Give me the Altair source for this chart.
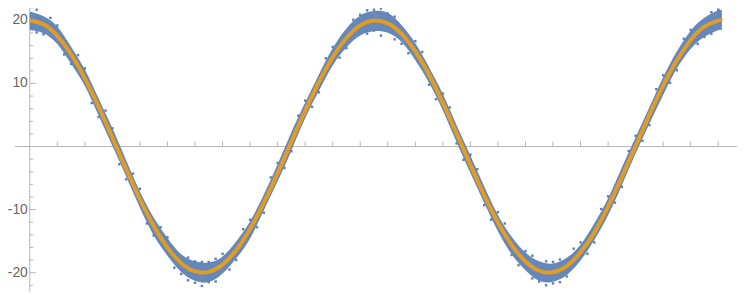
import altair as alt
import pandas as pd

# ---- data ----
x_s = [0.0, 0.25, 0.5, 0.75, 1.0, 1.25, 1.5, 1.75, 2.0, 2.25, 2.5, 2.75, 3.0, 3.25,
       3.5, 3.75, 4.0, 4.25, 4.5, 4.75, 5.0, 5.25, 5.5, 5.75, 6.0, 6.25, 6.5, 6.75,
       7.0, 7.25, 7.5, 7.75, 8.0, 8.25, 8.5, 8.75, 9.0, 9.25, 9.5, 9.75, 10.0, 10.25,
       10.5, 10.75, 11.0, 11.25, 11.5, 11.75, 12.0, 12.25, 12.5, 12.566]
fit_y = [20.0, 19.38, 17.55, 14.63, 10.81, 6.31, 1.41, -3.56, -8.32, -12.56, -16.02,
         -18.49, -19.80, -19.88, -18.73, -16.41, -13.07, -8.92, -4.22, 0.75, 5.67,
         10.24, 14.17, 17.22, 19.20, 19.99, 19.53, 17.86, 15.08, 11.39, 6.93, 2.08,
         -2.91, -7.71, -12.04, -15.62, -18.22, -19.70, -19.94, -18.95, -16.78, -13.62,
         -9.51, -4.84, 0.09, 5.02, 9.68, 13.70, 16.88, 19.01, 19.96, 20.0]
# dense part of the noisy data cloud: spread above / below the fit
spread_up = [1.4, 1.3, 1.5, 1.2, 1.4, 1.3, 1.5, 1.4, 1.2, 1.3, 1.5, 1.4, 1.6, 1.5,
             1.3, 1.4, 1.2, 1.3, 1.4, 1.5, 1.3, 1.2, 1.4, 1.5, 1.6, 1.5, 1.7, 1.4,
             1.3, 1.2, 1.4, 1.3, 1.5, 1.4, 1.2, 1.3, 1.4, 1.5, 1.4, 1.3, 1.2, 1.4,
             1.3, 1.5, 1.4, 1.2, 1.3, 1.4, 1.5, 1.4, 1.6, 1.5]
spread_dn = [1.5, 1.4, 1.3, 1.5, 1.2, 1.4, 1.3, 1.2, 1.4, 1.5, 1.3, 1.4, 1.5, 1.6,
             1.4, 1.3, 1.5, 1.2, 1.3, 1.4, 1.2, 1.4, 1.3, 1.5, 1.6, 1.7, 1.5, 1.3,
             1.4, 1.3, 1.2, 1.4, 1.3, 1.2, 1.4, 1.5, 1.4, 1.6, 1.5, 1.4, 1.3, 1.2,
             1.4, 1.3, 1.2, 1.4, 1.5, 1.3, 1.4, 1.6, 1.5, 1.6]
# scattered data points at the ragged edge of the cloud
pts_x = [0.125, 0.125, 0.375, 0.625, 0.875, 1.125, 1.375, 1.625, 1.875, 2.125, 2.375,
         2.625, 2.875, 2.875, 3.125, 3.125, 3.375, 3.375, 3.625, 3.875, 4.125, 4.375,
         4.625, 4.875, 5.125, 5.375, 5.625, 5.875, 6.125, 6.125, 6.375, 6.375, 6.625,
         6.625, 6.875, 7.125, 7.375, 7.625, 7.875, 8.125, 8.375, 8.625, 8.875, 9.125,
         9.125, 9.375, 9.375, 9.625, 9.625, 9.875, 10.125, 10.375, 10.625, 10.875,
         11.125, 11.375, 11.625, 11.875, 12.125, 12.375, 12.375, 12.5,
         0.25, 0.5, 0.75, 1.0, 1.25, 1.5, 1.75, 2.0, 2.25, 2.5, 2.75, 3.0, 3.0, 3.25,
         3.25, 3.5, 3.75, 4.0, 4.25, 4.5, 4.75, 5.0, 5.25, 5.5, 5.75, 6.0, 6.25, 6.25,
         6.5, 6.75, 7.0, 7.25, 7.5, 7.75, 8.0, 8.25, 8.5, 8.75, 9.0, 9.25, 9.5, 9.5,
         9.75, 10.0, 10.25, 10.5, 10.75, 11.0, 11.25, 11.5, 11.75, 12.0, 12.25, 12.5]
pts_y = [21.7, 18.1, 20.4, 14.6, 14.5, 6.9, 5.7, -2.8, -4.3, -12.2, -12.8,
         -19.2, -21.2, -17.6, -22.1, -18.3, -21.4, -17.8, -19.5, -13.1, -12.8, -4.9,
         -3.4, 4.9, 6.3, 14.0, 14.1, 20.1, 21.6, 17.9, 21.9, 17.6, 20.6,
         17.0, 14.8, 15.0, 7.5, 6.2, -2.1, -3.6, -11.6, -12.2, -18.8, -20.9,
         -17.3, -22.0, -18.2, -21.5, -17.9, -16.2, -17.0, -9.9, -8.9, -0.7,
         0.9, 9.1, 10.1, 17.1, 16.3, 21.3, 17.9, 21.6,
         17.8, 19.2, 13.1, 12.4, 4.7, 2.9, -5.2, -6.7, -14.1, -14.4, -20.2, -18.2, -21.6,
         -21.5, -18.3, -17.0, -18.0, -11.6, -10.5, -2.6, -0.75, 7.3, 8.6, 15.8, 15.6,
         20.9, 18.4, 21.7, 21.1, 16.3, 16.7, 9.8, 8.4, 0.5, -1.3, -9.3, -10.4, -17.2,
         -16.6, -21.4, -18.3, -21.7, -20.6, -15.2, -15.2, -7.9, -6.4, 1.7, 3.4, 11.3,
         12.1, 18.5, 17.4, 21.7]
# axes
x_ticks = [0.5, 1.0, 1.5, 2.0, 2.5, 3.0, 3.5, 4.0, 4.5, 5.0, 5.5, 6.0, 6.5, 7.0, 7.5,
           8.0, 8.5, 9.0, 9.5, 10.0, 10.5, 11.0, 11.5, 12.0, 12.5]
y_minor = [-22, -18, -16, -14, -12, -8, -6, -4, -2, 2, 4, 6, 8, 12, 14, 16, 18, 22]
y_major = [-20, -10, 10, 20]
y_labels = ["-20", "-10", "10", "20"]

BLUE = "#5E81B5"
ORANGE = "#E19C24"
AXIS = "#B5B5B5"
LABEL = "#666666"

W, H = 739, 287
xs = alt.Scale(domain=[-0.3951, 12.877], nice=False, zero=False)
ys = alt.Scale(domain=[-23.294, 21.725], nice=False, zero=False)

df = pd.DataFrame({"x": x_s, "y": fit_y})
df["hi"] = [c + d for c, d in zip(fit_y, spread_up)]
df["lo"] = [c - d for c, d in zip(fit_y, spread_dn)]
pts = pd.DataFrame({"x": pts_x, "y": pts_y})
xt = pd.DataFrame({"x": x_ticks, "y": [0] * len(x_ticks)})
ymin = pd.DataFrame({"x": [0] * len(y_minor), "y": y_minor})
ymaj = pd.DataFrame({"x": [0] * len(y_major), "y": y_major, "t": y_labels})
xaxis = pd.DataFrame({"x": [-0.27], "x2": [12.84], "y": [0]})
yaxis = pd.DataFrame({"x": [0], "y": [23.0], "y2": [-23.0]})

X = lambda f="x": alt.X(f"{f}:Q", scale=xs, axis=None)
Y = lambda f="y": alt.Y(f"{f}:Q", scale=ys, axis=None)

axis_x = alt.Chart(xaxis).mark_rule(color=AXIS, strokeWidth=1).encode(x=X(), x2="x2:Q", y=Y())
axis_y = alt.Chart(yaxis).mark_rule(color=AXIS, strokeWidth=1).encode(x=X(), y=Y(), y2="y2:Q")
ticks_x = alt.Chart(xt).mark_tick(orient="vertical", size=5, thickness=1, color=AXIS,
                                  yOffset=-2.5, opacity=1).encode(x=X(), y=Y())
ticks_ymin = alt.Chart(ymin).mark_tick(orient="horizontal", size=3.5, thickness=1, color=AXIS,
                                       xOffset=1.75, opacity=1).encode(x=X(), y=Y())
ticks_ymaj = alt.Chart(ymaj).mark_tick(orient="horizontal", size=6, thickness=1, color=AXIS,
                                       xOffset=3, opacity=1).encode(x=X(), y=Y())
labels = alt.Chart(ymaj).mark_text(align="right", baseline="middle", dx=-2, fontSize=14,
                                   font="Liberation Sans", color=LABEL).encode(
    x=X(), y=Y(), text="t:N")

cloud = alt.Chart(df).mark_area(color=BLUE, opacity=0.95, interpolate="natural").encode(
    x=X(), y=Y("hi"), y2="lo:Q")
scatter = alt.Chart(pts).mark_square(color=BLUE, size=6, opacity=1).encode(x=X(), y=Y())
fit = alt.Chart(df).mark_line(color=ORANGE, strokeWidth=4, interpolate="natural").encode(
    x=X(), y=Y())

chart = alt.layer(
    axis_x, axis_y, ticks_x, ticks_ymin, ticks_ymaj, labels,
    cloud, scatter, fit
).properties(
    width=W, height=H, autosize=alt.AutoSizeParams(type="none"), padding=0,
    background="white"
).configure_view(stroke=None)

chart.save("out.html", embed_options={"renderer": "svg", "actions": False})
